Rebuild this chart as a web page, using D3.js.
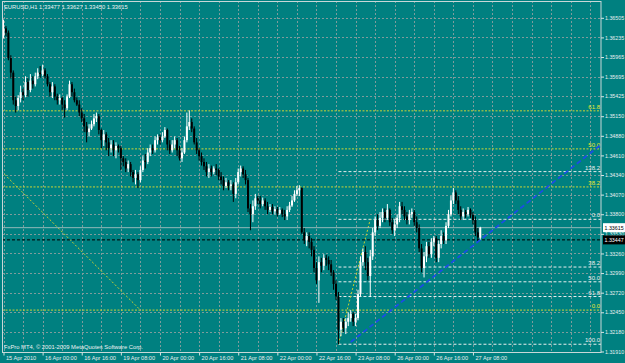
<!DOCTYPE html>
<html>
<head>
<meta charset="utf-8">
<script src="https://cdn.jsdelivr.net/npm/d3@7/dist/d3.min.js"></script>
<style>
  body { margin: 0; background: #008080; }
  svg { display: block; }
  text { font-family: "Liberation Sans", Arial, sans-serif; }
</style>
</head>
<body>
<svg width="625" height="363"></svg>
<script>
// EURUSD H1, 15 Apr 2010 - 27 Apr 2010
const symbol = "EURUSD,H1";

const opens = [
  1.3626,1.3636,1.3630,1.3595,1.3575,1.3537,1.3529,1.3540,1.3548,1.3544,
  1.3562,1.3551,1.3564,1.3559,1.3570,1.3575,1.3573,1.3578,1.3570,1.3559,
  1.3548,1.3556,1.3542,1.3537,1.3540,1.3531,1.3526,1.3542,1.3559,1.3548,
  1.3537,1.3531,1.3520,1.3512,1.3501,1.3493,1.3498,1.3504,1.3512,1.3515,
  1.3496,1.3482,1.3490,1.3479,1.3471,1.3476,1.3468,1.3474,1.3471,1.3457,
  1.3452,1.3443,1.3449,1.3438,1.3430,1.3435,1.3427,1.3441,1.3454,1.3452,
  1.3465,1.3471,1.3468,1.3482,1.3486,1.3482,1.3487,1.3496,1.3476,1.3468,
  1.3476,1.3482,1.3468,1.3457,1.3465,1.3482,1.3501,1.3507,1.3498,1.3479,
  1.3468,1.3460,1.3452,1.3446,1.3438,1.3443,1.3438,1.3443,1.3441,1.3432,
  1.3427,1.3419,1.3424,1.3419,1.3421,1.3408,1.3424,1.3438,1.3443,1.3435,
  1.3427,1.3388,1.3380,1.3391,1.3402,1.3399,1.3394,1.3399,1.3391,1.3386,
  1.3390,1.3384,1.3387,1.3381,1.3386,1.3380,1.3377,1.3386,1.3392,1.3399,
  1.3408,1.3413,1.3416,1.3355,1.3344,1.3350,1.3342,1.3331,1.3306,1.3289,
  1.3314,1.3309,1.3320,1.3317,1.3311,1.3300,1.3284,1.3267,1.3221,1.3232,
  1.3223,1.3232,1.3237,1.3243,1.3232,1.3237,1.3270,1.3314,1.3328,1.3314,
  1.3295,1.3322,1.3355,1.3372,1.3364,1.3375,1.3383,1.3375,1.3386,1.3369,
  1.3358,1.3366,1.3375,1.3391,1.3386,1.3377,1.3372,1.3380,1.3383,1.3369,
  1.3361,1.3333,1.3306,1.3322,1.3336,1.3325,1.3342,1.3347,1.3320,1.3339,
  1.3350,1.3344,1.3364,1.3380,1.3399,1.3410,1.3399,1.3386,1.3377,1.3383,
  1.3380,1.3386,1.3379,1.3372,1.3355,1.33477
];
const highs = [
  1.3648,1.3639,1.3633,1.3599,1.3578,1.3542,1.3544,1.3557,1.3553,1.3570,
  1.3567,1.3573,1.3570,1.3575,1.3581,1.3584,1.3586,1.3581,1.3573,1.3562,
  1.3562,1.3559,1.3546,1.3545,1.3542,1.3537,1.3545,1.3564,1.3562,1.3553,
  1.3541,1.3537,1.3526,1.3518,1.3507,1.3504,1.3509,1.3518,1.3520,1.3518,
  1.3498,1.3496,1.3493,1.3485,1.3482,1.3482,1.3479,1.3476,1.3474,1.3460,
  1.3457,1.3454,1.3452,1.3441,1.3441,1.3438,1.3446,1.3460,1.3463,1.3471,
  1.3476,1.3476,1.3487,1.3490,1.3490,1.3493,1.3500,1.3498,1.3482,1.3482,
  1.3487,1.3485,1.3474,1.3471,1.3487,1.3520,1.3523,1.3512,1.3501,1.3485,
  1.3471,1.3465,1.3457,1.3452,1.3449,1.3447,1.3446,1.3449,1.3443,1.3438,
  1.3432,1.3430,1.3427,1.3427,1.3424,1.3430,1.3443,1.3447,1.3446,1.3441,
  1.3430,1.3394,1.3399,1.3408,1.3405,1.3405,1.3403,1.3402,1.3397,1.3394,
  1.3394,1.3391,1.3390,1.3390,1.3388,1.3386,1.3391,1.3397,1.3405,1.3413,
  1.3419,1.3420,1.3417,1.3361,1.3355,1.3355,1.3347,1.3336,1.3314,1.3322,
  1.3320,1.3325,1.3324,1.3322,1.3317,1.3303,1.3289,1.3273,1.3237,1.3237,
  1.3237,1.3245,1.3248,1.3245,1.3243,1.3276,1.3322,1.3333,1.3336,1.3320,
  1.3331,1.3361,1.3377,1.3380,1.3383,1.3388,1.3388,1.3394,1.3388,1.3375,
  1.3372,1.3380,1.3397,1.3397,1.3391,1.3383,1.3386,1.3388,1.3386,1.3377,
  1.3366,1.3339,1.3328,1.3342,1.3342,1.3347,1.3350,1.3350,1.3344,1.3358,
  1.3355,1.3369,1.3386,1.3405,1.3416,1.3413,1.3405,1.3391,1.3388,1.3386,
  1.3390,1.3388,1.3383,1.3377,1.3361,1.33627
];
const lows = [
  1.3622,1.3625,1.3592,1.3567,1.3531,1.3520,1.3523,1.3534,1.3537,1.3541,
  1.3542,1.3548,1.3553,1.3556,1.3566,1.3568,1.3570,1.3567,1.3556,1.3542,
  1.3540,1.3537,1.3531,1.3531,1.3523,1.3513,1.3523,1.3540,1.3542,1.3534,
  1.3529,1.3515,1.3507,1.3493,1.3479,1.3487,1.3496,1.3501,1.3507,1.3490,
  1.3471,1.3474,1.3468,1.3460,1.3465,1.3460,1.3457,1.3465,1.3441,1.3446,
  1.3438,1.3438,1.3432,1.3424,1.3421,1.3416,1.3424,1.3438,1.3443,1.3449,
  1.3460,1.3463,1.3465,1.3476,1.3476,1.3479,1.3485,1.3468,1.3463,1.3465,
  1.3471,1.3460,1.3454,1.3452,1.3463,1.3479,1.3496,1.3493,1.3476,1.3463,
  1.3454,1.3447,1.3441,1.3432,1.3430,1.3432,1.3435,1.3434,1.3427,1.3421,
  1.3413,1.3416,1.3413,1.3413,1.3397,1.3402,1.3421,1.3432,1.3430,1.3421,
  1.3383,1.3358,1.3369,1.3386,1.3394,1.3388,1.3391,1.3386,1.3380,1.3383,
  1.3380,1.3380,1.3377,1.3379,1.3376,1.3372,1.3372,1.3383,1.3390,1.3397,
  1.3405,1.3405,1.3353,1.3339,1.3336,1.3333,1.3322,1.3300,1.3284,1.3258,
  1.3300,1.3303,1.3309,1.3303,1.3295,1.3276,1.3262,1.3201,1.3212,1.3218,
  1.3215,1.3226,1.3232,1.3226,1.3226,1.3234,1.3267,1.3309,1.3303,1.3289,
  1.3266,1.3317,1.3350,1.3358,1.3361,1.3369,1.3369,1.3372,1.3364,1.3353,
  1.3350,1.3361,1.3369,1.3380,1.3372,1.3366,1.3366,1.3375,1.3364,1.3355,
  1.3328,1.3300,1.3293,1.3314,1.3320,1.3320,1.3336,1.3314,1.3314,1.3333,
  1.3339,1.3339,1.3361,1.3377,1.3394,1.3394,1.3380,1.3372,1.3372,1.3375,
  1.3377,1.3375,1.3366,1.3350,1.3343,1.33450
];
const closes = [
  1.3636,1.3630,1.3595,1.3575,1.3537,1.3529,1.3540,1.3548,1.3544,1.3562,
  1.3551,1.3564,1.3559,1.3570,1.3575,1.3573,1.3578,1.3570,1.3559,1.3548,
  1.3556,1.3542,1.3537,1.3540,1.3531,1.3526,1.3542,1.3559,1.3548,1.3537,
  1.3531,1.3520,1.3512,1.3501,1.3493,1.3498,1.3504,1.3512,1.3515,1.3496,
  1.3482,1.3490,1.3479,1.3471,1.3476,1.3468,1.3474,1.3471,1.3457,1.3452,
  1.3443,1.3449,1.3438,1.3430,1.3435,1.3427,1.3441,1.3454,1.3452,1.3465,
  1.3471,1.3468,1.3482,1.3486,1.3482,1.3487,1.3496,1.3476,1.3468,1.3476,
  1.3482,1.3468,1.3457,1.3465,1.3482,1.3501,1.3507,1.3498,1.3479,1.3468,
  1.3460,1.3452,1.3446,1.3438,1.3443,1.3438,1.3443,1.3441,1.3432,1.3427,
  1.3419,1.3424,1.3419,1.3421,1.3408,1.3424,1.3438,1.3443,1.3435,1.3427,
  1.3388,1.3380,1.3391,1.3402,1.3399,1.3394,1.3399,1.3391,1.3386,1.3390,
  1.3384,1.3387,1.3381,1.3386,1.3380,1.3377,1.3386,1.3392,1.3399,1.3408,
  1.3413,1.3416,1.3355,1.3344,1.3350,1.3342,1.3331,1.3306,1.3289,1.3314,
  1.3309,1.3320,1.3317,1.3311,1.3300,1.3284,1.3267,1.3221,1.3232,1.3223,
  1.3232,1.3237,1.3243,1.3232,1.3237,1.3270,1.3314,1.3328,1.3314,1.3295,
  1.3322,1.3355,1.3372,1.3364,1.3375,1.3383,1.3375,1.3386,1.3369,1.3358,
  1.3366,1.3375,1.3391,1.3386,1.3377,1.3372,1.3380,1.3383,1.3369,1.3361,
  1.3333,1.3306,1.3322,1.3336,1.3325,1.3342,1.3347,1.3320,1.3339,1.3350,
  1.3344,1.3364,1.3380,1.3399,1.3410,1.3399,1.3386,1.3377,1.3383,1.3380,
  1.3386,1.3379,1.3372,1.3355,1.3348,1.33615
];

// axis labels
const priceTicks = [1.36505,1.36235,1.35965,1.35695,1.35425,1.35150,1.34880,1.34610,1.34340,
                    1.34070,1.33800,1.33530,1.33260,1.32990,1.32720,1.32450,1.32180,1.31910];
const timeBars = [0,16,32,48,64,80,96,112,128,144,160,176,192];
const timeLabels = ["15 Apr 2010","16 Apr 00:00","16 Apr 16:00","19 Apr 08:00","20 Apr 00:00",
  "20 Apr 16:00","21 Apr 08:00","22 Apr 00:00","22 Apr 16:00","23 Apr 08:00",
  "26 Apr 00:00","26 Apr 16:00","27 Apr 08:00"];

// objects on the chart
const fiboABars = [-76, 56];          // first point is off the left edge
const fiboAPrices = [1.3692, 1.3248];
const fiboALevels = [0, 0.382, 0.5, 0.618, 1];
const fiboALabels = ["0.0", "38.2", "50.0", "61.8", "100.0"];

const fiboBBars = [137, 150];
const fiboBPrices = [1.3201, 1.3373];
const fiboBLevels = [-0.382, 0, 0.382, 0.5, 0.618, 1];
const fiboBLabels = ["138.2", "0.0", "38.2", "50.0", "61.8", "100.0"];

const trendBars = [142, 195];
const trendPrices = [1.3204, 1.33447];

const hLinePrice = 1.33447;
const bidPrice = closes[closes.length - 1];

const svg = d3.select("svg");
const W = 625, H = 363;
const pl = 2, pt = 1, pr = 601, pb = 352.5;
const axisFont = 5.3;

const x = d3.scaleLinear().domain([0, 244]).range([3.5, 3.5 + 244 * 2.445]);
const y = d3.scaleLinear().domain([1.31910, 1.36505]).range([351.5, 17.8]);
const inPlot = p => y(p) > pt + 6 && y(p) < pb;

svg.append("rect").attr("width", W).attr("height", H).attr("fill", "#008080");

svg.append("defs").append("clipPath").attr("id", "plot")
  .append("rect").attr("x", pl).attr("y", pt).attr("width", pr - pl).attr("height", pb - pt);

const plot = svg.append("g").attr("clip-path", "url(#plot)");

// grid
plot.append("g").selectAll("line").data(priceTicks).join("line")
  .attr("x1", pl).attr("x2", pr)
  .attr("y1", d => Math.round(y(d)) + 0.5).attr("y2", d => Math.round(y(d)) + 0.5)
  .attr("stroke", "#7e9c9c").attr("stroke-dasharray", "2,2");
plot.append("g").selectAll("line").data(d3.range(0, 245, 8)).join("line")
  .attr("x1", d => Math.round(x(d)) + 0.5).attr("x2", d => Math.round(x(d)) + 0.5)
  .attr("y1", pt).attr("y2", pb)
  .attr("stroke", "#7e9c9c").attr("stroke-dasharray", "2,2");

// fibo A (yellow, across the whole width)
const fa = fiboALevels.map((l, i) => ({
  p: fiboAPrices[1] + (fiboAPrices[0] - fiboAPrices[1]) * l, label: fiboALabels[i]
})).filter(d => inPlot(d.p));
plot.append("g").selectAll("line").data(fa).join("line")
  .attr("x1", pl).attr("x2", pr)
  .attr("y1", d => y(d.p)).attr("y2", d => y(d.p))
  .attr("stroke", "#cad434").attr("stroke-dasharray", "2,1.5");
plot.append("line")
  .attr("x1", x(fiboABars[0])).attr("y1", y(fiboAPrices[0]))
  .attr("x2", x(fiboABars[1])).attr("y2", y(fiboAPrices[1]))
  .attr("stroke", "#c8d030").attr("stroke-dasharray", "2,2");
plot.append("g").selectAll("text").data(fa).join("text")
  .attr("x", pr - 1).attr("y", d => y(d.p) - 2)
  .attr("text-anchor", "end").attr("font-size", 6).attr("fill", "#e8e830")
  .text(d => d.label);

// fibo B (white dashed, from the low to the right)
const fb = fiboBLevels.map((l, i) => ({
  p: fiboBPrices[1] + (fiboBPrices[0] - fiboBPrices[1]) * l, label: fiboBLabels[i]
}));
plot.append("g").selectAll("line").data(fb).join("line")
  .attr("x1", x(fiboBBars[0])).attr("x2", pr)
  .attr("y1", d => y(d.p)).attr("y2", d => y(d.p))
  .attr("stroke", "#e8eeee").attr("stroke-dasharray", "3,2");
plot.append("line")
  .attr("x1", x(fiboBBars[0])).attr("y1", y(fiboBPrices[0]))
  .attr("x2", x(fiboBBars[1])).attr("y2", y(fiboBPrices[1]))
  .attr("stroke", "#c8d030").attr("stroke-dasharray", "2,2");
plot.append("g").selectAll("text").data(fb).join("text")
  .attr("x", pr - 1).attr("y", d => y(d.p) - 2)
  .attr("text-anchor", "end").attr("font-size", 6).attr("fill", "#eeeeee")
  .text(d => d.label);

// bid line and horizontal line
plot.append("line").attr("x1", pl).attr("x2", pr)
  .attr("y1", y(bidPrice)).attr("y2", y(bidPrice))
  .attr("stroke", "#b8c8c8").attr("stroke-width", 0.8);
plot.append("line").attr("x1", pl).attr("x2", pr)
  .attr("y1", y(hLinePrice)).attr("y2", y(hLinePrice))
  .attr("stroke", "#000").attr("stroke-dasharray", "3,2");

// candles
const bars = closes.map((c, i) => ({ i, o: opens[i], h: highs[i], l: lows[i], c }));
const cg = plot.append("g");
cg.selectAll("line").data(bars).join("line")
  .attr("x1", d => x(d.i)).attr("x2", d => x(d.i))
  .attr("y1", d => y(d.h)).attr("y2", d => y(d.l))
  .attr("stroke", d => d.c >= d.o ? "#fff" : "#000").attr("stroke-width", 1);
cg.selectAll("rect").data(bars).join("rect")
  .attr("x", d => x(d.i) - 1).attr("width", 2)
  .attr("y", d => y(Math.max(d.o, d.c)))
  .attr("height", d => Math.max(0.8, Math.abs(y(d.o) - y(d.c))))
  .attr("fill", d => d.c >= d.o ? "#fff" : "#000");

// trend line (ray)
const slope = (trendPrices[1] - trendPrices[0]) / (trendBars[1] - trendBars[0]);
plot.append("line")
  .attr("x1", x(trendBars[0])).attr("y1", y(trendPrices[0]))
  .attr("x2", x(244)).attr("y2", y(trendPrices[0] + slope * (244 - trendBars[0])))
  .attr("stroke", "#1a4ce8").attr("stroke-width", 1.7).attr("stroke-dasharray", "5,3");

// frame
svg.append("rect").attr("x", pl + 0.5).attr("y", pt + 0.5)
  .attr("width", pr - pl - 0.5).attr("height", pb - pt - 0.5)
  .attr("fill", "none").attr("stroke", "#c8d8d8");

// price axis
const ay = svg.append("g").attr("transform", `translate(${pr},0)`)
  .call(d3.axisRight(y).tickValues(priceTicks).tickFormat(d3.format(".5f")).tickSize(3).tickPadding(1));
ay.select(".domain").remove();
ay.selectAll("line").attr("stroke", "#d8e4e4");
ay.selectAll("text").attr("fill", "#e8eeee").attr("font-size", axisFont)
  .attr("font-family", "Liberation Sans, Arial, sans-serif");

// time axis
const ax = svg.append("g").attr("transform", `translate(0,${pb})`)
  .call(d3.axisBottom(x).tickValues(timeBars).tickFormat((d, i) => timeLabels[i]).tickSize(3).tickPadding(1));
ax.select(".domain").remove();
ax.selectAll("line").attr("stroke", "#d8e4e4");
ax.selectAll("text").attr("fill", "#e8eeee").attr("font-size", 5.6)
  .attr("font-family", "Liberation Sans, Arial, sans-serif")
  .attr("text-anchor", "start").attr("dx", 2);

// price boxes
const boxes = [
  { p: bidPrice, bg: "#ffffff", fg: "#000000" },
  { p: hLinePrice, bg: "#000000", fg: "#ffffff" }
];
const bx = svg.append("g").selectAll("g").data(boxes).join("g")
  .attr("transform", d => `translate(${pr + 2},${y(d.p)})`);
bx.append("rect").attr("x", 0).attr("y", -4.5).attr("width", 22).attr("height", 9)
  .attr("fill", d => d.bg);
bx.append("text").attr("x", 1.5).attr("y", 2).attr("font-size", axisFont)
  .attr("fill", d => d.fg).text(d => d3.format(".5f")(d.p));

// header and footer
const last = bars[bars.length - 1];
svg.append("text").attr("x", 4).attr("y", 8.5).attr("font-size", 5.8).attr("fill", "#eef2f2")
  .text(`${symbol}  ${[last.o, last.h, last.l, last.c].map(d3.format(".5f")).join(" ")}`);
svg.append("text").attr("x", 4).attr("y", 348.5).attr("font-size", 5.8).attr("fill", "#eef2f2")
  .text("FxPro MT4, © 2001-2009 MetaQuotes Software Corp.");
</script>
</body>
</html>
